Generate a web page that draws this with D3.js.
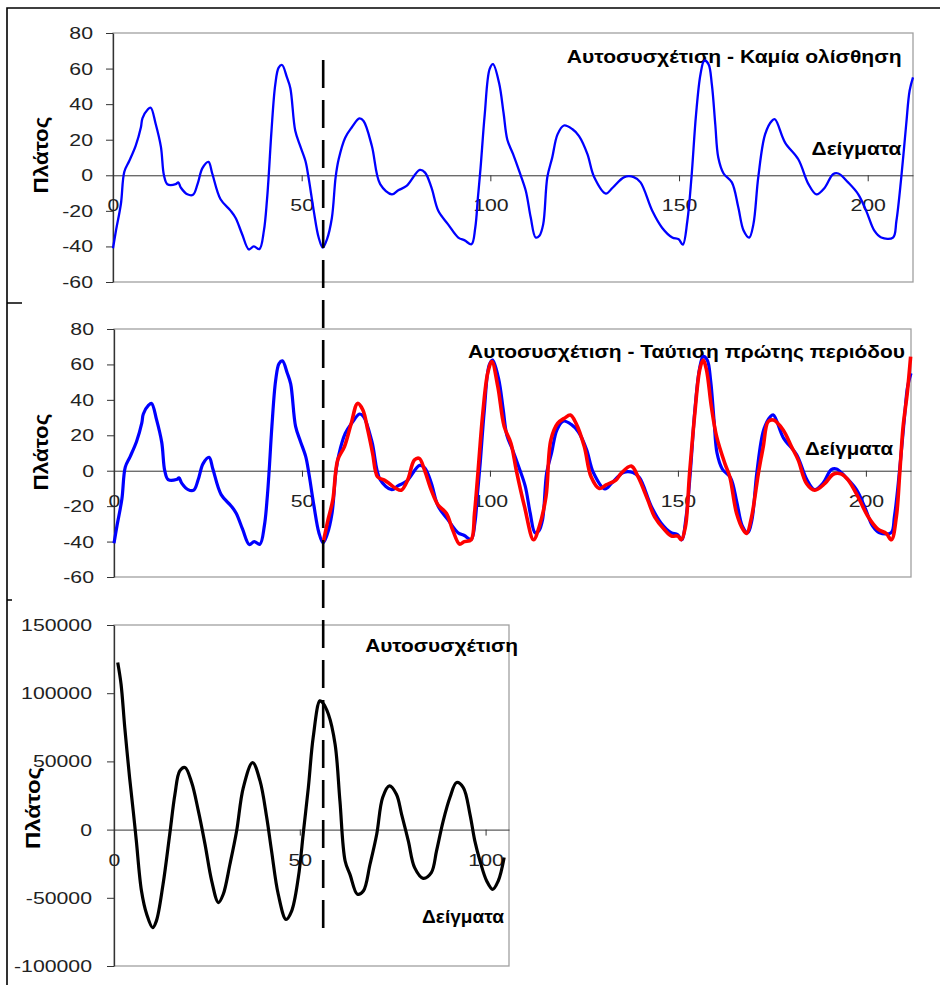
<!DOCTYPE html>
<html>
<head>
<meta charset="utf-8">
<script src="https://cdnjs.cloudflare.com/ajax/libs/d3/7.8.5/d3.min.js"></script>
<style>
  body { margin: 0; background: #fff; }
  svg { display: block; font-family: "Liberation Sans", Arial, sans-serif; }
</style>
</head>
<body>
<svg id="chart" width="940" height="985"></svg>
<script>
// signal (blue) - sample index and amplitude
var blueSample = [0, 0.8, 2.1, 3, 4.3, 6, 7.4, 7.8, 9.2, 10, 11.3, 12.7, 13.5, 14.4, 16.6, 17.3, 18, 19.7, 21.2, 22.4,
  23.7, 25.3, 26.3, 28.5, 31.2, 32.5, 34.2, 36, 37.3, 38.8, 40, 40.8, 41.3, 42, 43, 43.9, 44.8, 46.1, 47, 48.3,
  49.6, 51, 51.8, 53.2, 54.5, 55.6, 56.7, 58, 59, 59.8, 61.5, 63.3, 65.3, 66.4, 68.6, 70.8, 73.9, 75.6, 77.8, 81.3,
  82.7, 84.4, 86.2, 88.8, 91.5, 93.2, 95, 96, 96.7, 97.4, 98.5, 99.8, 100.7, 102.3, 103.5, 104.5, 106, 107.7, 109.4, 110.7,
  112, 113, 114, 115.1, 116.4, 117.8, 119.5, 121.7, 123.5, 125.7, 127.5, 130.6, 132.4, 135.5, 138, 139.8, 142.9, 145.5, 148.2, 149.9,
  151, 152.2, 153.3, 154.5, 155.7, 156.7, 157.8, 158.7, 159.6, 160.4, 161.8, 164, 165.7, 167.1, 168.6, 169.7, 171, 172.8, 174.6, 175.4,
  178.1, 181.6, 184.3, 186.4, 188.6, 190.8, 192.2, 194.8, 197.5, 199.6, 201.8, 203.6, 206.7, 207.6, 208.9, 210.2, 211.1, 212];
var blueValue = [-41, -31, -16, 2, 8, 16.5, 27, 32, 37, 38, 29, 16, 0, -5, -5, -4, -7, -10.7, -11, -5,
  4, 7.5, 1, -13.5, -20, -24, -33, -41.7, -40, -41.5, -31, -14, 1, 25, 51, 60.5, 62, 55, 49, 25,
  16.5, 8, -1, -20, -35, -40.7, -36, -24, -1, 9, 21, 27, 32, 30.5, 16.5, -5, -10.7, -8.4, -6, 3,
  1.5, -7, -20, -27.6, -35, -36.6, -38.8, -29.5, -12.6, 4, 34, 59.7, 62.5, 52, 35, 20, 12, 2, -8.8, -23.8,
  -35, -34, -27.6, -1, 10, 23, 28, 26, 22, 12, -1, -10.3, -7, -1, -1, -4, -20, -29.5, -35, -36,
  -39, -25.7, -1, 34, 57, 64.5, 62.5, 51, 28.7, 10, 1, -4, -18, -31, -35, -27.6, -1, 23, 30.6, 31.5,
  18.4, 9, -5, -10.7, -7, 0.6, 1, -4, -10.7, -20, -31.3, -35, -35, -25.7, -1, 28.7, 47.5, 55];

// first period laid over the rest (red)
var redSample = [55.7, 56.9, 58.2, 59.5, 61.3, 63.1, 64.8, 66.2, 67.5, 68.8, 70.1, 71.9, 73.2, 75, 76.4, 78.1, 79.9, 81.2, 82.6, 84.4,
  86.2, 88.4, 90.1, 91.9, 93.2, 95, 95.9, 96.8, 98.1, 99.4, 100.5, 102.1, 103.8, 105.6, 107, 109.2, 111.6, 113.1, 114.9, 116.2,
  118, 119.8, 121.4, 122.9, 125.1, 126.9, 129.1, 130.9, 133.5, 134.9, 137.6, 139.4, 142, 143.8, 146.5, 148.3, 150, 150.9, 152, 153.1,
  154.5, 155.8, 156.7, 157.6, 158.9, 160.3, 162.5, 163.8, 165.6, 167.4, 168.3, 169.6, 171.4, 172.7, 174, 175.4, 178, 180.2, 182, 184.2,
  186.4, 189.1, 191.3, 193.5, 195.3, 197.9, 200.6, 203.2, 205.4, 206.8, 208.1, 209, 209.9, 211, 211.9];
var redValue = [-40, -28, -16.6, 6, 13.6, 26.7, 38, 34.3, 23, 9.8, -3.4, -5.3, -7.2, -10, -11, -5.3, 6, 7, 0.4, -11,
  -19.4, -24, -33.5, -41.4, -40, -39, -24, -1.5, 32.4, 55, 61.6, 47.5, 24.9, 15.4, 0.4, -20.3, -39, -31.6, -14.7, 17.3,
  26.7, 29.6, 31.4, 26.7, 13.6, -3.4, -10, -8, -5.3, -1.5, 2.6, -3.4, -16.6, -26, -33.5, -36.9, -36.9, -39, -31.6, -1.5,
  32.4, 57, 62.5, 57, 36.2, 19.2, 4, -3.4, -24, -33.5, -35.4, -26, -1.5, 13.6, 27.7, 28.6, 23, 13.6, 6, -7.2,
  -11, -7.2, -2, -1.9, -5.3, -14.7, -26, -33, -35.4, -39, -26, -1.5, 24.9, 43.7, 64.4];

// autocorrelation (black)
var acLag = [1, 1.9, 2.9, 4.2, 5.2, 6, 7.4, 8.8, 10.4, 11.4, 13.2, 15, 16.4, 17.7, 19.1, 20.9, 22.7, 24.5, 26.3, 28.1,
  29.4, 31.2, 33, 34.8, 37.3, 39.3, 41.1, 42.4, 44.2, 46.3, 47.8, 49.6, 51, 52.3, 53.6, 55.4, 56.1, 57.7, 59.5, 60.8,
  62.2, 63.5, 65.5, 67.1, 68.9, 70.7, 72.3, 74.1, 76, 77.4, 79.2, 80.9, 83.2, 85.4, 86.8, 88.6, 90.4, 92.2, 94, 95.8,
  97.1, 98.5, 100.3, 101.9, 103.4, 105];
var acValue = [122500, 106600, 74800, 38000, 13000, -8000, -45000, -62100, -71900, -67000, -40100, -3400, 25900, 43000, 45500, 34500, 13700, -10800, -37700, -53500,
  -47400, -25400, -1000, 30800, 49100, 35700, 8800, -15600, -47400, -65800, -59700, -35200, -1000, 30800, 67500, 94400, 93200, 84600, 62600, 21000,
  -23000, -32800, -47400, -45000, -25400, -3400, 23500, 32000, 25900, 11200, -8300, -27900, -35700, -31500, -15600, 6400, 23500, 34500, 30800, 11200,
  -8300, -23000, -37700, -43800, -37700, -20500];

var periodLag = 55.7;

var signalYTicks = [-60, -40, -20, 0, 20, 40, 60, 80];
var signalXTicks = [0, 50, 100, 150, 200];
var acYTicks = [-100000, -50000, 0, 50000, 100000, 150000];
var acXTicks = [0, 50, 100];

var titleTop = 'Αυτοσυσχέτιση - Καμία ολίσθηση';
var titleMid = 'Αυτοσυσχέτιση - Ταύτιση πρώτης περιόδου';
var titleBottom = 'Αυτοσυσχέτιση';
var xLabel = 'Δείγματα';
var yLabel = 'Πλάτος';

var svg = d3.select('#chart');
var STRETCH = 1.25; // the original picture is stretched sideways
var plainNum = function(d) { return String(d); }; // hyphen minus, as in Excel

// outer frame of the sheet
svg.append('path')
  .attr('d', 'M7,985 V8 H940 M7,303 H22 M7,600 H12')
  .attr('fill', 'none')
  .attr('stroke', '#000')
  .attr('stroke-width', 1.6);

function addText(g, str, o) {
  var t = g.append('text')
    .text(str)
    .attr('text-anchor', o.anchor || 'start')
    .style('font-size', o.size + 'px')
    .style('font-weight', o.bold ? 'bold' : 'normal')
    .attr('fill', '#000');
  var k = o.width ? o.width / t.node().getComputedTextLength() : STRETCH;
  t.attr('transform', 'translate(' + o.x + ',' + o.y + ')' +
    (o.rotate ? ' rotate(' + o.rotate + ')' : '') + ' scale(' + k + ',1)');
  return t;
}

function drawPanel(p) {
  var x = d3.scaleLinear().domain(p.xDomain).range([p.left, p.right]);
  var y = d3.scaleLinear().domain(p.yDomain).range([p.bottom, p.top]);
  var g = svg.append('g');

  // plot area border (gray)
  g.append('rect')
    .attr('x', p.left).attr('y', p.top)
    .attr('width', p.right - p.left).attr('height', p.bottom - p.top)
    .attr('fill', 'none')
    .attr('stroke', '#a0a0a0')
    .attr('stroke-width', 1.3);

  // y axis
  var ya = g.append('g')
    .attr('transform', 'translate(' + p.left + ',0)')
    .call(d3.axisLeft(y).tickValues(p.yTicks).tickFormat(plainNum).tickSize(7).tickSizeOuter(0));
  ya.select('.domain').attr('stroke', '#333').attr('stroke-width', 1.3);
  ya.selectAll('.tick line').attr('stroke', '#333');
  ya.selectAll('.tick text')
    .attr('x', 0)
    .attr('fill', '#222')
    .style('font-size', '17px')
    .style('font-family', '"Liberation Sans", Arial, sans-serif')
    .attr('transform', 'translate(' + (-p.yLabelGap) + ',0) scale(' + STRETCH + ',1)');

  // x axis on the zero line
  var xa = g.append('g')
    .attr('transform', 'translate(0,' + y(0) + ')')
    .call(d3.axisBottom(x).tickValues(p.xTicks).tickFormat(plainNum).tickSize(6).tickPadding(18).tickSizeOuter(0));
  xa.select('.domain').attr('stroke', '#333');
  xa.selectAll('.tick line').attr('stroke', '#333');
  xa.selectAll('.tick text')
    .attr('fill', '#222')
    .style('font-size', '17px')
    .style('font-family', '"Liberation Sans", Arial, sans-serif')
    .attr('transform', 'scale(' + STRETCH + ',1)')
    .attr('x', 0);

  // texts
  addText(g, p.title, { x: p.titleX, y: p.titleY, anchor: 'end', size: 19, bold: true, width: p.titleW });
  addText(g, xLabel, { x: p.xLabX, y: p.xLabY, anchor: 'end', size: 19, bold: true, width: p.xLabW });
  addText(g, yLabel, { x: p.yLabX, y: p.yLabY, anchor: 'middle', size: 21, bold: true, width: p.yLabW, rotate: -90 });

  return { x: x, y: y, g: g };
}

function drawLine(panel, xs, ys, color, width) {
  var pts = xs.map(function(d, i) { return [d, ys[i]]; });
  var line = d3.line()
    .x(function(d) { return panel.x(d[0]); })
    .y(function(d) { return panel.y(d[1]); })
    .curve(d3.curveCatmullRom.alpha(0.5));
  panel.g.append('path')
    .datum(pts)
    .attr('d', line)
    .attr('fill', 'none')
    .attr('stroke', color)
    .attr('stroke-width', width)
    .attr('stroke-linejoin', 'round');
}

var topPanel = drawPanel({
  left: 113, right: 913, top: 33, bottom: 282,
  xDomain: [0, 212], yDomain: [-60, 80],
  xTicks: signalXTicks, yTicks: signalYTicks, yLabelGap: 20,
  title: titleTop, titleX: 901.5, titleY: 63, titleW: 335,
  xLabX: 901.5, xLabY: 155, xLabW: 90,
  yLabX: 48, yLabY: 155, yLabW: 77
});
drawLine(topPanel, blueSample, blueValue, '#0000ff', 2.3);

var midPanel = drawPanel({
  left: 114, right: 911, top: 329, bottom: 577,
  xDomain: [0, 212], yDomain: [-60, 80],
  xTicks: signalXTicks, yTicks: signalYTicks, yLabelGap: 20,
  title: titleMid, titleX: 905, titleY: 358, titleW: 437,
  xLabX: 893, xLabY: 455, xLabW: 88,
  yLabX: 48, yLabY: 452, yLabW: 77
});
drawLine(midPanel, blueSample, blueValue, '#0000ff', 3.2);
drawLine(midPanel, redSample, redValue, '#ff0000', 3.6);

var botPanel = drawPanel({
  left: 114, right: 509, top: 625, bottom: 966,
  xDomain: [0, 106.3], yDomain: [-100000, 150000],
  xTicks: acXTicks, yTicks: acYTicks, yLabelGap: 22,
  title: titleBottom, titleX: 518, titleY: 652, titleW: 153,
  xLabX: 504, xLabY: 923, xLabW: 82,
  yLabX: 40, yLabY: 808, yLabW: 82
});
drawLine(botPanel, acLag, acValue, '#000', 3.2);

// dashed marker at one period
svg.append('line')
  .attr('x1', topPanel.x(periodLag)).attr('x2', topPanel.x(periodLag))
  .attr('y1', 60).attr('y2', 930)
  .attr('stroke', '#000')
  .attr('stroke-width', 2.6)
  .attr('stroke-dasharray', '28,12');
</script>
</body>
</html>
